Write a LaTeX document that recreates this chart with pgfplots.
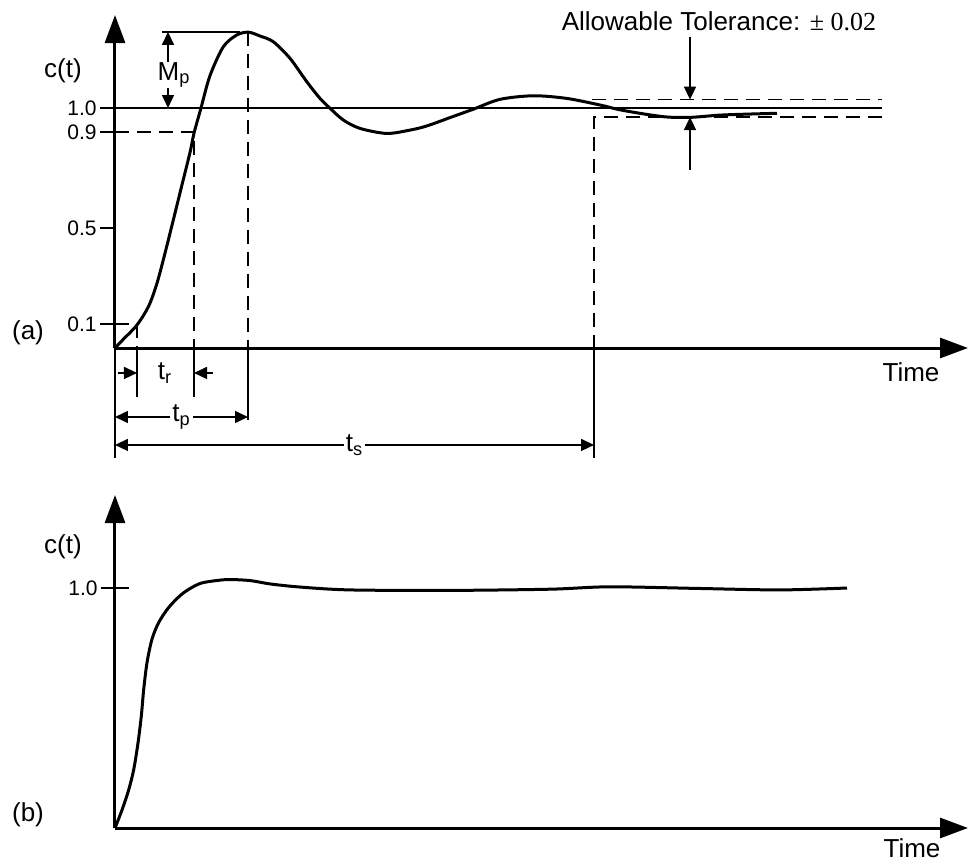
\documentclass[border=0pt]{standalone}
\usepackage{fontspec}
\setmainfont{Liberation Sans}
\newfontfamily\timesfont{Liberation Serif}
\usepackage{pgfplots}
\pgfplotsset{compat=1.18}
\usepackage{pgfplotstable}
\usetikzlibrary{arrows.meta}

% underdamped step response
\pgfplotstableread{
t c
0 0
0.08 0.035
0.22 0.096
0.337 0.175
0.42 0.27
0.503 0.40
0.587 0.54
0.67 0.68
0.753 0.82
0.79 0.895
0.86 1.0
0.95 1.135
1.083 1.255
1.217 1.304
1.333 1.316
1.45 1.30
1.583 1.276
1.75 1.207
1.917 1.11
2.05 1.04
2.15 0.999
2.283 0.95
2.45 0.915
2.717 0.894
2.95 0.908
3.117 0.925
3.35 0.96
3.583 0.995
3.85 1.036
4.183 1.051
4.517 1.04
4.85 1.0125
5.08 0.99
5.48 0.964
5.75 0.961
6.08 0.971
6.62 0.978
}\respa

% well damped response
\pgfplotstableread{
t c
0 0
0.07 0.075
0.137 0.159
0.187 0.243
0.23 0.354
0.263 0.466
0.287 0.577
0.32 0.689
0.37 0.787
0.437 0.856
0.537 0.919
0.67 0.975
0.803 1.01
0.90 1.024
1.117 1.035
1.35 1.031
1.55 1.017
1.85 1.004
2.35 0.992
3.35 0.99
4.35 0.995
4.95 1.005
5.85 0.998
6.65 0.992
7.32 1.0
}\respb

\tikzset{
  thn/.style={line width=0.75pt},
  dsh/.style={line width=0.75pt, dash pattern=on 7pt off 4pt},
  dim/.style={line width=0.75pt, -{Triangle[length=6.5pt,width=6pt]}},
  dimb/.style={line width=0.75pt, {Triangle[length=6.5pt,width=6pt]}-{Triangle[length=6.5pt,width=6pt]}},
}
\pgfplotsset{
  resp/.style={
    x=50pt, y=120pt,
    xmin=0, xmax=8.53, ymin=0, ymax=1.3875,
    enlargelimits=false, clip=false,
    axis lines*=left, xtick=\empty,
    axis line style={line width=1.5pt, -{Triangle[length=14pt,width=10pt]}},
    major tick style={line width=1.3pt, black},
    yticklabel style={font=\fontsize{10.5}{12}\selectfont, inner sep=1.5pt},
  },
}

\begin{document}
\begin{tikzpicture}[font=\fontsize{13}{15}\selectfont]
\path[use as bounding box] (-57.5pt,-257.5pt) rectangle (427.5pt,174pt);

% (a)
\begin{axis}[resp, at={(0,0)}, anchor=south west,
  ytick={0.1,0.5,0.9,1}, yticklabels={0.1,0.5,0.9,1.0},
  tick align=outside, major tick length=7.5pt]
\draw[thn] (0,1) -- (7.67,1);
\draw[dsh] (4.77,1.035) -- (7.67,1.035);
\draw[dsh] (7.67,0.962) -- (4.79,0.962) -- (4.79,0);
\draw[dsh] (0,0.1) -- (0.22,0.1) -- (0.22,0);
\draw[dsh] (0,0.9) -- (0.79,0.9) -- (0.79,0);
\draw[dsh] (1.33,1.317) -- (1.33,0);
\draw[thn] (0,0) -- (0,-0.458);
\draw[thn] (4.79,0) -- (4.79,-0.458);
\draw[thn] (0.22,0) -- (0.22,-0.204);
\draw[thn] (0.79,0) -- (0.79,-0.204);
\draw[thn] (1.33,0) -- (1.33,-0.3);
\addplot[line width=1.5pt, smooth, no marks] table[x=t, y=c] {\respa};
% peak overshoot
\draw[thn] (0.47,1.317) -- (1.25,1.317);
\draw[dim] (0.53,1.19) -- (0.53,1.317);
\draw[dim] (0.53,1.083) -- (0.53,1.0);
\node at (0.59,1.1375) {M\textsubscript{p}};
% times
\draw[dim] (0.03,-0.104) -- (0.22,-0.104);
\draw[dim] (0.98,-0.104) -- (0.79,-0.104);
\node at (0.5,-0.104) {t\textsubscript{r}};
\draw[dimb] (0,-0.2875) -- node[fill=white, inner sep=1pt] {t\textsubscript{p}} (1.33,-0.2875);
\draw[dimb] (0,-0.404) -- node[fill=white, inner sep=1pt] {t\textsubscript{s}} (4.79,-0.404);
% tolerance band
\draw[dim] (5.75,1.296) -- (5.75,1.035);
\draw[dim] (5.75,0.742) -- (5.75,0.962);
\node at (6.04,1.36) {Allowable Tolerance: {\timesfont ± 0.02}};
\node at (-0.52,1.154) {c(t)};
\node at (-0.87,0.0625) {(a)};
\node at (7.96,-0.1) {Time};
\end{axis}

% (b)
\begin{axis}[resp, at={(0,-240pt)}, anchor=south west,
  ytick={1}, yticklabels={1.0},
  tick align=center, major tick length=14pt]
\addplot[line width=1.5pt, smooth, no marks] table[x=t, y=c] {\respb};
\node at (-0.52,1.17) {c(t)};
\node at (-0.87,0.054) {(b)};
\node at (7.97,-0.086) {Time};
\end{axis}
\end{tikzpicture}
\end{document}
